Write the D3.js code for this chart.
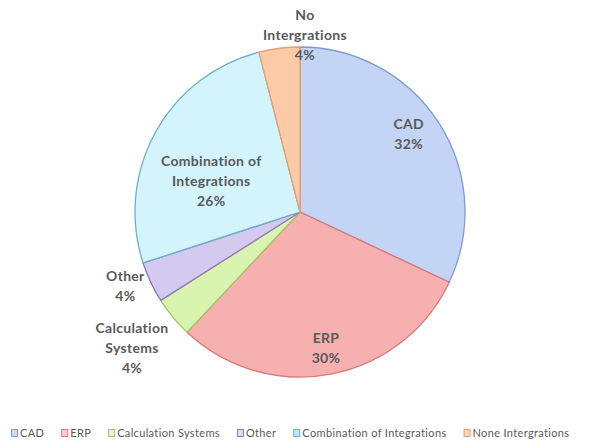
<!DOCTYPE html>
<html>
<head>
<meta charset="utf-8">
<script src="https://cdn.jsdelivr.net/npm/d3@7"></script>
<style>
  html, body { margin: 0; padding: 0; background: #ffffff; }
  svg { display: block; }
</style>
</head>
<body>
<svg id="chart" width="594" height="444"></svg>
<script>
// Survey shares by integration type (percent)
const categories = ["CAD", "ERP", "Calculation Systems", "Other", "Combination of Integrations", "None Intergrations"];
const values = [32, 30, 4, 4, 26, 4];
// Text shown on each slice label, one entry per line
const sliceLabels = [
  ["CAD"],
  ["ERP"],
  ["Calculation", "Systems"],
  ["Other"],
  ["Combination of", "Integrations"],
  ["No", "Intergrations"]
];

// Slice styling: inner fill, outer fill, outline
const palette = {
  "CAD":                         { inner: "#cddbf9", outer: "#c4d4f5", stroke: "#7f9ad0" },
  "ERP":                         { inner: "#fcd0d0", outer: "#f7b0b0", stroke: "#d9777a" },
  "Calculation Systems":         { inner: "#e6f8c8", outer: "#d8f4ae", stroke: "#a5c46a" },
  "Other":                       { inner: "#e2daf6", outer: "#d4c9ef", stroke: "#8f79b5" },
  "Combination of Integrations": { inner: "#b8eafb", outer: "#d3f3fd", stroke: "#6aaed0" },
  "None Intergrations":          { inner: "#fcd6bd", outer: "#fbcaa7", stroke: "#e9a06a" }
};

// Label placement: radius as a fraction of the pie radius, and angular shift in degrees
const labelPlacement = {
  "CAD":                         { k: 0.81, da: -3.2 },
  "ERP":                         { k: 0.84, da: 0 },
  "Calculation Systems":         { k: 1.31, da: 0.6 },
  "Other":                       { k: 1.15, da: 2.2 },
  "Combination of Integrations": { k: 0.57, da: -9.5 },
  "None Intergrations":          { k: 1.07, da: 8.8 }
};

const svg = d3.select("#chart");
const cx = 300, cy = 212, R = 165;

const data = categories.map((c, i) => ({ category: c, value: values[i], lines: sliceLabels[i] }));

const pie = d3.pie().value(d => d.value).sort(null).startAngle(0).endAngle(2 * Math.PI);
const arcs = pie(data);
const arc = d3.arc().innerRadius(0).outerRadius(R);

// Radial gradients for the slice fills
const defs = svg.append("defs");
categories.forEach((c, i) => {
  const g = defs.append("radialGradient")
    .attr("id", "grad" + i)
    .attr("gradientUnits", "userSpaceOnUse")
    .attr("cx", cx).attr("cy", cy).attr("r", R);
  g.append("stop").attr("offset", "0%").attr("stop-color", palette[c].inner);
  g.append("stop").attr("offset", "100%").attr("stop-color", palette[c].outer);
});

const g = svg.append("g").attr("transform", `translate(${cx},${cy})`);

g.selectAll("path.slice")
  .data(arcs)
  .join("path")
  .attr("class", "slice")
  .attr("d", arc)
  .attr("fill", (d, i) => `url(#grad${i})`)
  .attr("stroke", d => palette[d.data.category].stroke)
  .attr("stroke-width", 1.3)
  .attr("stroke-linejoin", "round");

// Data labels: category lines followed by the percentage
const lineH = 20;
const labels = g.selectAll("text.lbl")
  .data(arcs)
  .join("text")
  .attr("class", "lbl")
  .attr("text-anchor", "middle")
  .style("font-family", "Lato, 'Open Sans', sans-serif")
  .style("font-weight", "bold")
  .style("font-size", "14px")
  .style("letter-spacing", "0.3px")
  .attr("fill", "#595959");

labels.each(function (d) {
  const p = labelPlacement[d.data.category];
  const mid = (d.startAngle + d.endAngle) / 2 + p.da * Math.PI / 180;
  const r = p.k * R;
  const x = r * Math.sin(mid);
  const y = -r * Math.cos(mid);
  const lines = d.data.lines.concat([d.data.value + "%"]);
  const top = y - (lines.length - 1) * lineH / 2;
  const t = d3.select(this);
  lines.forEach((s, j) => {
    t.append("tspan")
      .attr("x", x)
      .attr("y", top + j * lineH)
      .attr("dy", "0.35em")
      .text(s);
  });
});

// Legend along the bottom
const legend = svg.append("g").attr("transform", "translate(11,433)");
let lx = 0;
categories.forEach((c, i) => {
  const item = legend.append("g").attr("transform", `translate(${lx},0)`);
  item.append("rect")
    .attr("x", 0.5).attr("y", -3.5)
    .attr("width", 6).attr("height", 7)
    .attr("fill", palette[c].inner)
    .attr("stroke", palette[c].stroke)
    .attr("stroke-width", 1);
  const t = item.append("text")
    .attr("x", 9)
    .attr("y", 0)
    .attr("dy", "0.35em")
    .style("font-family", "Lato, 'Open Sans', sans-serif")
    .style("font-size", "11px")
    .style("letter-spacing", "0.35px")
    .attr("fill", "#595959")
    .text(c);
  lx += 9 + t.node().getComputedTextLength() + 17;
});
</script>
</body>
</html>
